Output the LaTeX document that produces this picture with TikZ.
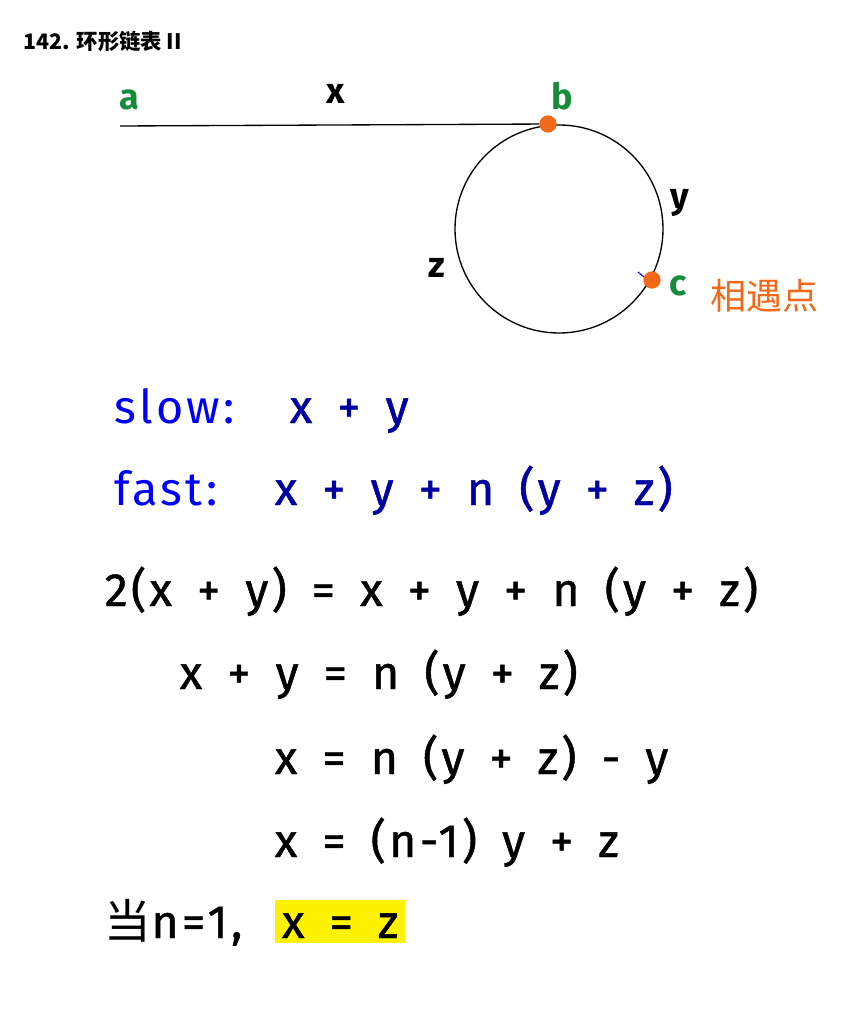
\documentclass[tikz,border=0pt]{standalone}
\usepackage{fontspec}
\setmainfont{Fira Sans}
\newfontfamily\hand[LetterSpace=7, WordSpace=1.6, FakeBold=1]{Fira Sans}
\newfontfamily\handlight[LetterSpace=7, WordSpace=1.6]{Fira Sans}
\newfontfamily\cjk{Noto Sans CJK SC}
\usetikzlibrary{positioning}
\definecolor{ptgreen}{RGB}{20,140,60}
\definecolor{ptorange}{RGB}{242,105,25}
\definecolor{lblblue}{RGB}{0,0,250}
\definecolor{eqnavy}{RGB}{0,0,160}

\begin{document}
\begin{tikzpicture}[x=0.75pt, y=-0.75pt,
  dot/.style={circle, fill=ptorange, inner sep=0pt, minimum size=13},
  lbl/.style={font=\bfseries\fontsize{27}{30}\selectfont},
  eq/.style={anchor=base west, font=\hand\fontsize{35}{38}\selectfont},
  tag/.style={eq, font=\handlight\fontsize{35}{38}\selectfont, text=lblblue}]
\useasboundingbox (0,0) rectangle (861,1031);
\node[anchor=west, font=\cjk\bfseries\fontsize{16}{18}\selectfont] (title) at (19,41) {142. 环形链表 II};
% list and cycle
\coordinate (start) at (120,126);
\draw[line width=1pt] (559,229) circle[radius=104];
\node[dot] (b) at (548,124) {};
\node[dot] (c) at (652,280) {};
\draw[line width=1pt] (start) -- (b);
\draw[blue, thick] (638,272) -- (644,277);
\node[lbl, text=ptgreen] (la) at (129,100) {a};
\node[lbl] (lx) at (336,94) {x};
\node[lbl, text=ptgreen] (lb) at (562,96) {b};
\node[lbl] (ly) at (680,203) {y};
\node[lbl] (lz) at (437,268) {z};
\node[lbl, text=ptgreen] (lc) at (678,286) {c};
\node[font=\cjk\fontsize{27}{30}\selectfont, text=ptorange] (meet) at (764,296) {相遇点};
% equations
\node[tag] (slow) at (110,423) {slow:};
\node[eq, text=eqnavy] (slowexp) at (285,423) {x + y};
\node[tag] (fast) at (110,505) {fast:};
\node[eq, text=eqnavy] (fastexp) at (270,505) {x + y + n (y + z)};
\node[eq] (e1) at (100,606) {2(x + y) = x + y + n (y + z)};
\node[eq] (e2) at (175,689) {x + y = n (y + z)};
\node[eq] (e3) at (270,774) {x = n (y + z) - y};
\node[eq] (e4) at (270,857) {x = (n-1) y + z};
\node[eq] (e5) at (100,938) {{\cjk 当}n=1,};
\node[eq, fill=yellow, inner xsep=5pt, inner ysep=2pt, text height=26.5pt, text depth=1.75pt] (res) at (275,938) {x = z};
\end{tikzpicture}
\end{document}
